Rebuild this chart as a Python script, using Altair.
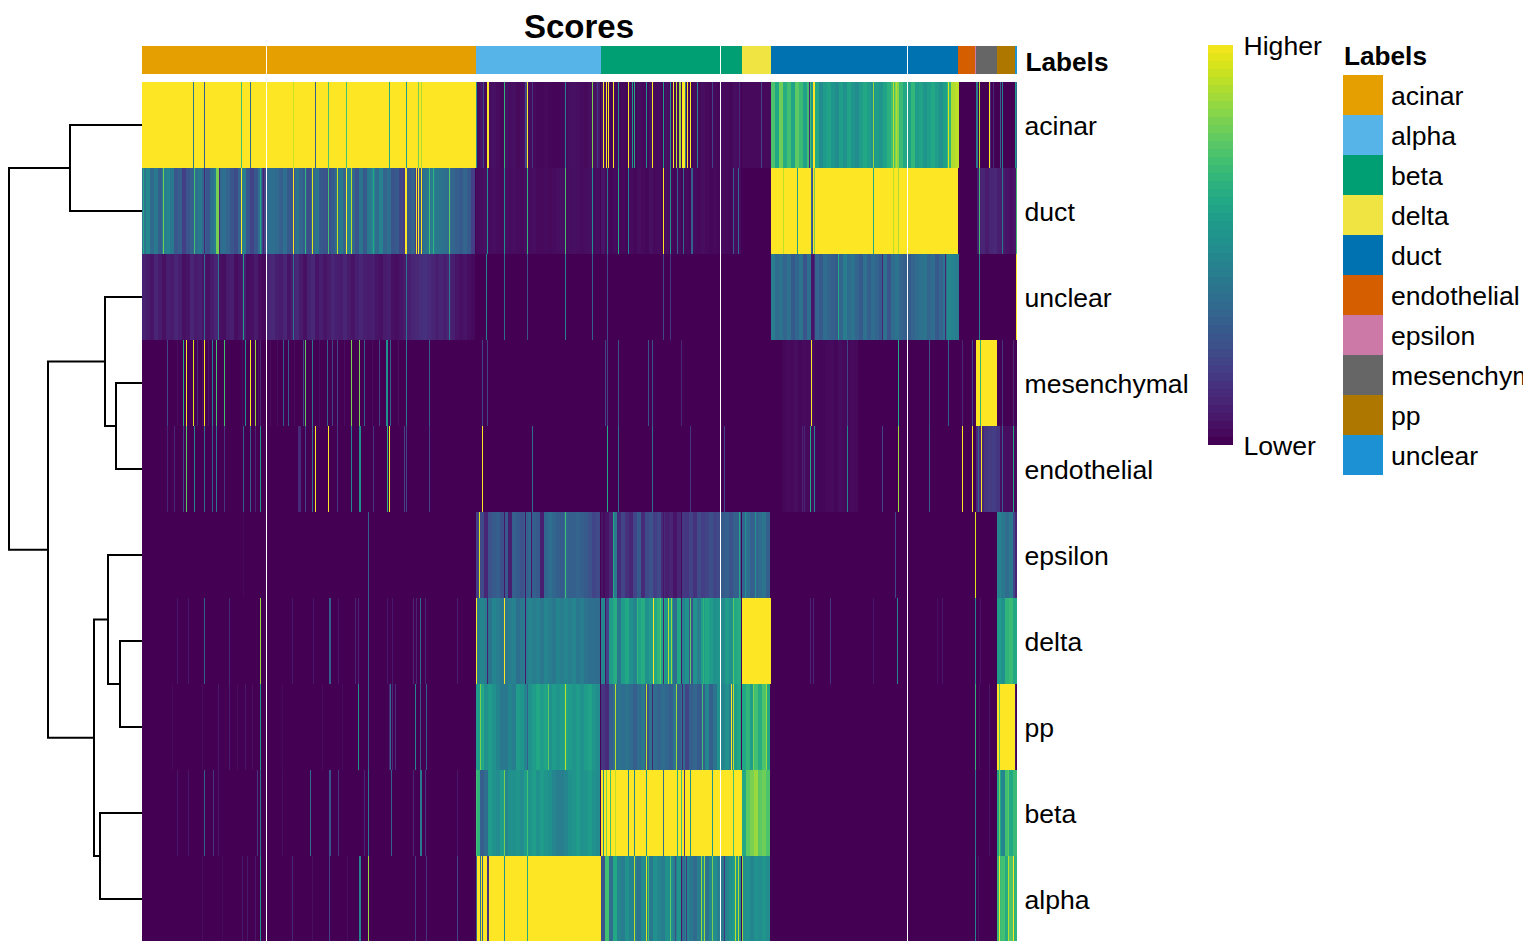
import altair as alt
import pandas as pd

ROWS = ["acinar", "duct", "unclear", "mesenchymal", "endothelial", "epsilon", "delta", "pp", "beta", "alpha"]
LABELS = ["acinar", "alpha", "beta", "delta", "duct", "endothelial", "epsilon", "mesenchymal", "pp", "unclear"]
LABEL_COLORS = ["#E69F00", "#56B4E9", "#009E73", "#F0E442", "#0072B2", "#D55E00", "#CC79A7", "#666666", "#AD7700", "#1C91D4"]
LABEL_STARTS = [0, 334, 459, 600, 629, 816, 833, 834, 855, 873]
LABEL_ENDS = [334, 459, 600, 629, 816, 833, 834, 855, 873, 875]
NCOL = 875
GAP_COLS = [124, 578, 765]
COLORBAR_EDGES = [i / 50 for i in range(51)]
COLORBAR_TICKS = [0, 1]

# values in 4-column steps
T_DUCT_ACINAR_1 = [.38,.46,.34,.4,.3,.42,.44,.4,.27,.3,.18,.26,.3,.36,.4,.32,.27,.37,.42,.34,.36,.32,.27,.23,.32,.42,.27,.2,.27,.36,.2]
T_DUCT_ACINAR_2 = [.36,.36,.34,.3,.36,.28,.26,.38,.32,.28,.23,.32,.38,.28,.26,.23,.28,.35,.4,.32,.44,.32,.26,.38,.28,.4,.44,.35,.44,.32,.36,.26,.28,.2,.18,.28,.32,.18,.28,.38,.4,.42,.4,.38,.36,.35,.32,.3,.28,.32,.28,.18]
T_UNCL_ACINAR_1 = [.09,.07,.05,.1,.07,.04,.08,.07,.1,.08,.04,.05,.1,.07,.08,.05,.04,.07,.1,.04,.03,.07,.08,.03,.05,.08,.03,.04,.07,.03,.02]
T_UNCL_ACINAR_2 = [.1,.11,.08,.07,.1,.05,.08,.11,.07,.04,.09,.11,.05,.08,.05,.07,.1,.08,.07,.1,.07,.05,.08,.1,.08,.07,.08,.05,.04,.07,.08,.04,.03,.05,.07,.08,.1,.11,.13,.14,.12,.1,.08,.1,.08,.1,.08,.05,.04,.05,.03,.02]
T_ACINAR_ALPHA = [.03,.05,.02,.03,.04,.025,.015,.04,.03,.035,.02,.025,.05,.025,.02,.015,.015,.02,.015,.01,.01,.015,.025,.035,.04,.03,.025,.02,.03,.04,.06]
T_ACINAR_BETA = [.05,.02,.015,.025,.015,.02,.015,.025,.015,.03,.02,.015,.04,.02,.025,.015,.04,.02,.015,.025,.015,.02,.015,.025,.02,.03,.02,.015,.02,.015,.025,.02,.015,.03,.025]
T_ACINAR_DUCT = [.72,.6,.78,.62,.7,.58,.75,.68,.58,.7,.52,.6,.48,.55,.58,.52,.48,.56,.5,.58,.52,.48,.55,.6,.56,.5,.55,.52,.58,.64,.7,.82,.68,.6,.56,.66,.55,.58,.52,.56,.6,.55,.5,.56,.66,.88,.9]
T_DUCT_ALPHA = [.025,.03,.04,.025,.03,.025,.02,.03,.025,.03,.025,.02,.03,.025,.03,.02,.02,.025,.02,.025,.03,.035,.025,.03,.035,.03,.025,.03,.035,.025,.03]
T_UNCL_DUCT = [.42,.35,.38,.32,.37,.28,.33,.38,.26,.36,.12,.32,.28,.35,.32,.3,.28,.32,.42,.35,.38,.32,.28,.37,.3,.35,.32,.28,.37,.26,.35,.38,.32,.3,.28,.32,.35,.37,.38,.32,.35,.28,.32,.38,.46,.44,.42]
T_MES_DUCT = [.015,.025,.02,.03,.015,.025,.02,.03,.015,.01,.015,.02,.025,.015,.03,.02,.015,.025,.02]
T_DUCT_MES = [.08,.1,.07,.1,.11,.08,.07,.05,.04,.05,.05,.07,.04,.05,.05,.04,.03,.05,.04,.05]
T_ENDO_MES = [.12,.1,.15,.17,.18,.15,.03,.03,.03,.02,.03,.03,.02,.03]
T_EPS_ALPHA = [.18,.22,.1,.25,.28,.3,.24,.28,.08,.3,.28,.25,.3,.33,.3,.28,.08,.33,.36,.33,.3,.28,.33,.3,.3,.32,.3,.28,.25,.2,.22]
T_EPS_BETA = [.05,.05,.1,.4,.12,.2,.14,.1,.2,.28,.12,.22,.25,.18,.22,.12,.08,.1,.05,.1,.16,.15,.2,.14,.22,.18,.2,.24,.2,.22,.28,.3,.25,.3,.3]
T_EPS_DELTA = [.33,.36,.3,.32,.35,.38,.3]
T_DELTA_ALPHA = [.42,.45,.42,.38,.45,.42,.4,.4,.42,.44,.36,.4,.42,.45,.42,.44,.4,.45,.42,.4,.45,.42,.45,.42,.45,.4,.42,.38,.36,.36,.35]
T_DELTA_BETA = [.45,.2,.55,.62,.4,.55,.6,.5,.45,.58,.62,.5,.55,.6,.65,.58,.52,.55,.35,.6,.45,.5,.25,.5,.42,.55,.6,.55,.5,.52,.48,.55,.5,.6,.62]
T_PP_ALPHA = [.55,.6,.5,.55,.5,.45,.4,.4,.45,.42,.55,.52,.45,.5,.55,.6,.55,.58,.5,.55,.52,.55,.58,.55,.52,.55,.5,.55,.58,.52,.48]
T_PP_BETA = [.15,.12,.3,.35,.38,.36,.38,.35,.3,.35,.4,.25,.38,.35,.32,.35,.33,.3,.38,.3,.35,.2,.3,.32,.28,.3,.45,.3,.38,.5,.45,.5,.42,.55,.6]
T_PP_DELTA = [.6,.65,.55,.7,.62,.72,.6]
T_BETA_ALPHA = [.65,.3,.35,.55,.5,.48,.55,.45,.5,.5,.52,.48,.55,.52,.56,.5,.55,.52,.5,.45,.42,.42,.45,.5,.52,.55,.5,.52,.55,.5,.48]
T_BETA_DELTA = [.6,.75,.8,.85,.75,.78,.72]
T_ALPHA_BETA = [.25,.7,.35,.6,.45,.42,.5,.45,.42,.38,.48,.45,.4,.5,.45,.42,.5,.48,.42,.52,.35,.45,.4,.35,.42,.48,.38,.45,.48,.42,.4,.45,.5,.55,.5]
T_ALPHA_DELTA = [.48,.5,.45,.5,.48,.52,.48]
T_EPS_PP = [.45,.4,.35,.4,.2]
T_DELTA_PP = [.55,.5,.65,.68,.6]
T_BETA_PP = [.6,.45,.7,.6,.68]
T_ALPHA_PP = [.68,.7,.62,.72,.65]

ROW_SOLID = {
    "acinar": [(0, 334, 1.0), (600, 629, .02)],
    "duct": [(629, 816, 1.0), (816, 834, 0), (855, 875, .03)],
    "unclear": [],
    "mesenchymal": [(834, 855, 1.0)],
    "endothelial": [],
    "epsilon": [],
    "delta": [(600, 629, 1.0)],
    "pp": [(855, 873, 1.0)],
    "beta": [(459, 600, 1.0)],
    "alpha": [(334, 459, 1.0)],
}
ROW_BLOCKS = {
    "acinar": [(334, T_ACINAR_ALPHA), (459, T_ACINAR_BETA), (629, T_ACINAR_DUCT)],
    "duct": [(0, T_DUCT_ACINAR_1), (125, T_DUCT_ACINAR_2), (334, T_DUCT_ALPHA), (459, T_ACINAR_BETA), (835, T_DUCT_MES)],
    "unclear": [(0, T_UNCL_ACINAR_1), (125, T_UNCL_ACINAR_2), (629, T_UNCL_DUCT)],
    "mesenchymal": [(640, T_MES_DUCT)],
    "endothelial": [(640, T_MES_DUCT), (834, T_ENDO_MES)],
    "epsilon": [(334, T_EPS_ALPHA), (459, T_EPS_BETA), (600, T_EPS_DELTA), (855, T_EPS_PP)],
    "delta": [(334, T_DELTA_ALPHA), (459, T_DELTA_BETA), (855, T_DELTA_PP)],
    "pp": [(334, T_PP_ALPHA), (459, T_PP_BETA), (600, T_PP_DELTA)],
    "beta": [(334, T_BETA_ALPHA), (600, T_BETA_DELTA), (855, T_BETA_PP)],
    "alpha": [(459, T_ALPHA_BETA), (600, T_ALPHA_DELTA), (855, T_ALPHA_PP)],
}
ROW_STRIPES = {
    "acinar": [(51,.4),(62,.3),(99,.7),(108,.35),(151,.92),(173,.3),(186,.72),(204,.7),(247,.6),(264,.55),(276,.78),(279,.88),
               (334,.5),(341,.2),(345,1),(346,1),(362,.65),(383,.2),(384,.2),(385,1),(390,.15),(423,.42),(450,.8),(455,.15),
               (461,1),(464,1),(466,1),(471,1),(476,.5),(486,1),(490,.55),(492,.6),(504,.5),(510,1),(521,.55),(528,.5),(531,1),(534,.9),(537,.85),(538,.85),(540,1),(541,1),(542,1),(543,.4),(545,1),(548,1),(555,.45),(570,.2),(597,.12),(619,.2),
               (667,.1),(671,1),(672,1),(731,.85),(806,.95),(751,.9),(754,.88),
               (834,.4),(835,.4),(837,.9),(847,1),(848,.12),(851,.12),(858,.3),(860,.45),(873,.55),(874,.35)],
    "duct": [(1,.6),(21,.78),(52,.7),(74,.78),(75,.8),(76,.8),(77,.1),(62,.1),(99,1),(118,.6),(121,.1),(151,1),(163,.65),(170,.95),(186,.7),(195,.92),(204,1),(209,.9),(231,.6),(263,1),(264,1),(274,1),(276,1),(279,1),(287,.7),(291,.65),(307,.75),
             (345,.5),(362,.5),(385,.65),(423,.7),(450,.5),(465,.4),(476,.6),(486,.45),(521,1),(528,.5),(535,.3),(541,.35),(549,.3),(550,.3),(591,.3),(596,.35),
             (641,.9),(655,.55),(669,.35),(670,.25),(672,.8),(731,.6),(751,.9),(756,.88),
             (837,.7),(860,.4),(874,.7)],
    "unclear": [(62,.35),(76,.4),(101,.55),(151,.4),(264,.4),(307,.4),(344,.45),(362,.35),(385,.25),(423,.42),(450,.3),(465,.2),(521,.2),(528,.15),
                (669,.05),(670,.05),(671,.05),(696,.6),(740,.1),(803,.1),(837,.4),(874,1)],
    "mesenchymal": [(25,.2),(41,.62),(44,1),(51,.95),(55,.12),(62,1),(70,.45),(74,.7),(82,.7),(103,.5),(108,1),(113,.85),(118,.1),(141,.3),(146,.3),(161,.2),(163,.75),(170,.4),(185,.3),(190,.2),(195,.2),(209,.8),(217,.8),(222,.3),(237,.2),(244,.5),(245,.5),(248,.3),(264,.4),(287,.3),(340,.12),
                    (35,.03),(60,.04),(66,.05),(100,.03),(116,.04),(128,.03),(135,.035),(152,.03),(177,.035),(202,.035),(230,.03),(256,.04),
                    (340,.2),(345,.2),(463,.2),(465,.2),(476,.25),(506,.25),(510,.25),(539,.1),
                    (669,1),(705,.2),(756,.6),(787,.25),(806,.3),(820,.1),(830,.2),(838,.65),(860,.15),(871,.1)],
    "endothelial": [(25,.1),(32,.1),(41,.2),(44,.75),(52,.45),(62,.35),(70,.3),(74,.4),(82,.15),(101,.3),(108,.3),(113,.1),(118,.5),(156,.12),(157,.12),(158,.12),(163,.2),(170,.35),(173,1),(186,1),(195,.15),(209,.45),(217,.5),(218,.5),(231,.15),(245,.65),(247,1),(262,.2),(264,.2),(287,.2),(340,1),
                    (390,.35),(465,.6),(476,.35),(510,.35),(548,.15),(582,.2),
                    (660,.1),(662,.1),(668,.6),(672,.45),(705,.45),(740,.2),(756,.85),(787,.3),(820,1),(830,1),(836,.3),(839,1),(860,.3),(871,.6)],
    "epsilon": [(101,.02),(226,.3),(337,.95),(345,.1),(362,.05),(383,.05),(389,.05),(423,.7),(461,.02),(462,.02),(471,.6),(490,.1),(521,.05),(528,.1),(539,.02),(597,.6),(603,.5),(613,.5),
                (753,.2),(833,.95),(873,.1),(874,.1)],
    "delta": [(35,.06),(46,.06),(62,.3),(87,.12),(118,.85),(150,.06),(171,.06),(187,.3),(188,.3),(196,.06),(213,.1),(216,.1),(226,.3),(245,.06),(250,.06),(271,.1),(274,.1),(278,.35),(283,.1),(315,.08),
              (334,1),(345,.08),(362,1),(383,.05),(463,.05),(471,.6),(495,.65),(511,1),(518,.75),(521,.1),(526,.9),(529,.85),(539,.05),(548,.75),(561,.65),(591,.75),
              (668,.1),(671,.1),(688,.15),(731,.06),(755,.45),(795,.03),(800,.06),(833,.45),(838,.05)],
    "pp": [(76,.06),(87,.08),(103,.06),(118,.5),(216,.5),(226,.3),(247,.12),(248,.35),(250,.12),(253,.12),(273,.45),(278,.25),(284,.3),
           (30,.025),(60,.03),(95,.03),(110,.04),(140,.025),(180,.03),(200,.025),
           (338,.8),(385,.3),(406,.75),(423,.9),(473,.9),(504,.9),(510,.1),(534,.85),(540,.1),(560,.7),(589,1),(591,.9),(611,.8),(624,.85),
           (833,.65),(837,.03),(847,.06),(857,.75),(873,.05)],
    "beta": [(35,.06),(46,.06),(62,.3),(71,.15),(76,.06),(115,.15),(118,.4),(140,.04),(168,.35),(187,.25),(188,.25),(196,.15),(222,.1),(226,.4),(249,.3),(271,.1),(278,.4),(279,.4),(283,.15),(315,.06),
             (334,.7),(362,.8),(385,.7),(461,.5),(464,.8),(468,.7),(473,.9),(486,.45),(492,.45),(504,.5),(521,.35),(535,.6),(539,.7),(542,.15),(548,.5),(570,.5),(591,.7),
             (833,.4),(847,.05),(857,.8),(866,.75)],
    "alpha": [(150,.1),(187,.2),(217,.45),(218,.45),(226,.85),(118,.5),(100,.06),(105,.06),(113,.06),(273,.15),(284,.15),(315,.2),(60,.03),(80,.025),(170,.035),(205,.03),
              (334,.3),(338,.4),(340,.3),(345,.15),(346,.15),(362,.5),(385,.6),
              (492,.9),(504,.95),(506,.7),(528,.75),(533,.25),(539,.05),(544,.15),(559,.85),(562,.85),(570,.8),(582,.15),(593,.9),(596,.9),(600,.85),
              (833,.45),(836,.05),(857,1),(866,.9),(871,1)],
}

# Dendrogram merges: left height, left row, node height, right height, right row
MERGES = [
    (0, 0.5, 72, 0, 1.5),
    (0, 3.5, 26, 0, 4.5),
    (0, 2.5, 37, 26, 4.0),
    (0, 6.5, 22, 0, 7.5),
    (0, 5.5, 34, 22, 7.0),
    (0, 8.5, 42, 0, 9.5),
    (34, 6.25, 48, 42, 9.0),
    (37, 3.25, 94, 48, 7.625),
    (72, 1.0, 133, 94, 5.4375),
]

rows_out = []
for name in ROWS:
    vals = [0.0] * NCOL
    for s, e, v in ROW_SOLID[name]:
        for c in range(s, e):
            vals[c] = v
    for start, block in ROW_BLOCKS[name]:
        for i, v in enumerate(block):
            for c in range(start + i * 4, min(start + (i + 1) * 4, NCOL)):
                vals[c] = v
    for c, v in ROW_STRIPES[name]:
        vals[c] = v
    c = 0
    while c < NCOL:
        if c in GAP_COLS:
            c += 1
            continue
        e = c + 1
        while e < NCOL and vals[e] == vals[c] and e not in GAP_COLS:
            e += 1
        rows_out.append({"row": name, "x": c, "x2": e, "score": vals[c]})
        c = e
heat_df = pd.DataFrame(rows_out)

ann = []
for lab, s, e in zip(LABELS, LABEL_STARTS, LABEL_ENDS):
    cuts = [s] + [g for g in GAP_COLS if s < g < e] + [e]
    for i in range(len(cuts) - 1):
        a = cuts[i] + (1 if i > 0 else 0)
        ann.append({"ann": "Labels", "label": lab, "x": a, "x2": cuts[i + 1]})
ann_df = pd.DataFrame(ann)

dend = []
for i, (lh, ly, nh, rh, ry) in enumerate(MERGES):
    for j, (h, y) in enumerate([(lh, ly), (nh, ly), (nh, ry), (rh, ry)]):
        dend.append({"m": i, "o": j, "h": h, "y": y})
dend_df = pd.DataFrame(dend)

cb_df = pd.DataFrame({"lo": COLORBAR_EDGES[:-1], "hi": COLORBAR_EDGES[1:], "score": COLORBAR_EDGES[:-1]})
leg_df = pd.DataFrame({"label": LABELS})

W = 1515
H = 933
X_SCALE = alt.Scale(domain=[0, NCOL], range=[134, 1009], nice=False, zero=False)
VIRIDIS = alt.Scale(scheme="viridis", domain=[0, 1])
LABEL_SCALE = alt.Scale(domain=LABELS, range=LABEL_COLORS)
LEG_Y = alt.Y("label:N", sort=LABELS, axis=None,
              scale=alt.Scale(domain=LABELS, range=[67, 467], paddingInner=0, paddingOuter=0))

heat = alt.Chart(heat_df).mark_rect(strokeWidth=0).encode(
    x=alt.X("x:Q", scale=X_SCALE, axis=None),
    x2="x2:Q",
    y=alt.Y("row:N", sort=ROWS, title=None,
            scale=alt.Scale(domain=ROWS, range=[74, 934], paddingInner=0, paddingOuter=0),
            axis=alt.Axis(orient="right", offset=1009 - W, ticks=False, domain=False, grid=False,
                          labelFontSize=26.6, labelPadding=7, labelOffset=2, labelColor="#000000", labelLimit=300)),
    color=alt.Color("score:Q", scale=VIRIDIS, legend=None),
)

annot = alt.Chart(ann_df).mark_rect(strokeWidth=0).encode(
    x=alt.X("x:Q", scale=X_SCALE, axis=None),
    x2="x2:Q",
    y=alt.Y("ann:N", title=None,
            scale=alt.Scale(domain=["Labels"], range=[38, 66], paddingInner=0, paddingOuter=0),
            axis=alt.Axis(orient="right", offset=1009 - W, ticks=False, domain=False, grid=False,
                          labelFontSize=26.2, labelFontWeight="bold", labelPadding=8, labelOffset=3, labelColor="#000000")),
    color=alt.Color("label:N", scale=LABEL_SCALE, legend=None),
)

tree = alt.Chart(dend_df).mark_line(color="#000000", strokeWidth=2, strokeJoin="miter", strokeCap="square").encode(
    x=alt.X("h:Q", scale=alt.Scale(domain=[134, 0], range=[0, 134], nice=False, zero=False), axis=None),
    y=alt.Y("y:Q", scale=alt.Scale(domain=[0, 10], range=[74, 934], nice=False, zero=False), axis=None),
    detail="m:N",
    order="o:Q",
)

colorbar = alt.Chart(cb_df).mark_rect(strokeWidth=0).encode(
    x=alt.value(1200), x2=alt.value(1225),
    y=alt.Y("lo:Q", title=None, scale=alt.Scale(domain=[0, 1], range=[437, 37], nice=False, zero=False),
            axis=alt.Axis(orient="right", offset=1225 - W, values=COLORBAR_TICKS, ticks=False, domain=False, grid=False,
                          labelExpr="datum.value == 0 ? 'Lower' : 'Higher'", labelFontSize=26.6, labelPadding=10,
                          labelOffset=1, labelColor="#000000", labelBound=False, labelFlush=False, labelOverlap=False)),
    y2="hi:Q",
    color=alt.Color("score:Q", scale=VIRIDIS, legend=None),
)

swatches = alt.Chart(leg_df).mark_rect(strokeWidth=0).encode(
    x=alt.value(1335), x2=alt.value(1375), y=LEG_Y,
    color=alt.Color("label:N", scale=LABEL_SCALE, legend=None),
)
swatch_text = alt.Chart(leg_df).mark_text(align="left", baseline="middle", fontSize=26.6, color="#000000", clip=True, dy=2).encode(
    x=alt.value(1383), y=LEG_Y, text="label:N",
)
leg_title = alt.Chart(pd.DataFrame({"t": ["Labels"]})).mark_text(
    align="left", baseline="middle", fontSize=26.2, fontWeight="bold", color="#000000"
).encode(x=alt.value(1336), y=alt.value(49), text="t:N")

title = alt.Chart(pd.DataFrame({"t": ["Scores"], "c": [437]})).mark_text(
    align="center", baseline="alphabetic", fontSize=33, fontWeight="bold", color="#000000"
).encode(x=alt.X("c:Q", scale=X_SCALE, axis=None), y=alt.value(30), text="t:N")

chart = alt.layer(tree, annot, heat, colorbar, swatches, swatch_text, leg_title, title).resolve_scale(
    x="independent", y="independent", color="independent"
).properties(
    width=W, height=H, padding=0, autosize=alt.AutoSizeParams(type="none"),
).configure(font="Liberation Sans", background="#ffffff").configure_view(stroke=None)

chart.save("out.html", embed_options={"renderer": "svg", "actions": False})
